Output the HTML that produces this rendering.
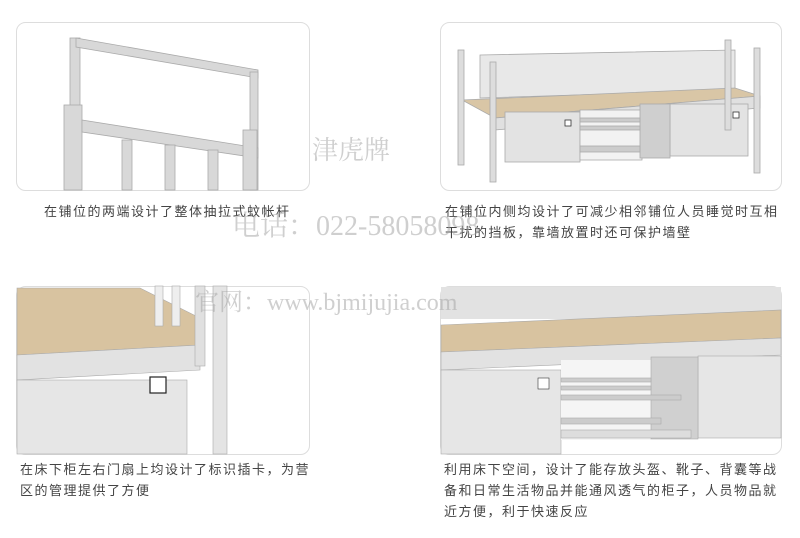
<!DOCTYPE html>
<html><head><meta charset="utf-8"><style>
body{margin:0;background:#fff;width:800px;height:538px;overflow:hidden;position:relative;font-family:"Liberation Sans","Noto Sans CJK SC",sans-serif}
.t{position:absolute;font-size:13px;letter-spacing:1.5px;color:#444;line-height:21px}
.w{position:absolute;font-family:"Liberation Serif","Noto Serif CJK SC",serif;color:rgba(160,160,160,0.5);white-space:nowrap}
</style></head><body>
<svg width="800" height="538" style="position:absolute;left:0;top:0">
<rect x="16.5" y="22.5" width="293" height="168" rx="9" fill="#fff" stroke="#ddd"/>
<rect x="440.5" y="22.5" width="341" height="168" rx="9" fill="#fff" stroke="#ddd"/>
<rect x="16.5" y="286.5" width="293" height="168" rx="9" fill="#fff" stroke="#ddd"/>
<rect x="440.5" y="286.5" width="341" height="168" rx="9" fill="#fff" stroke="#ddd"/>
<g fill="#d8d8d8" stroke="#aaa" stroke-width="0.8">
<rect x="70" y="38" width="10" height="130"/>
<polygon points="76,38 258,70 258,78 76,47"/>
<rect x="250" y="72" width="8" height="118"/>
<rect x="64" y="105" width="18" height="85"/>
<polygon points="82,120 258,148 258,158 82,132"/>
<rect x="122" y="140" width="10" height="50"/>
<rect x="165" y="145" width="10" height="45"/>
<rect x="208" y="150" width="10" height="40"/>
<rect x="243" y="130" width="14" height="60"/>
</g>
<g stroke="#aaa" stroke-width="0.8">
<polygon points="480,55 735,50 735,90 480,98" fill="#e8e8e8"/>
<polygon points="462,100 735,88 760,96 495,118" fill="#d9c6a6"/>
<polygon points="495,118 760,96 760,108 495,130" fill="#e0e0e0"/>
<rect x="505" y="112" width="75" height="50" fill="#e3e3e3"/>
<rect x="670" y="104" width="78" height="52" fill="#e3e3e3"/>
<rect x="580" y="110" width="62" height="50" fill="#f2f2f2"/>
<rect x="640" y="104" width="30" height="54" fill="#cfcfcf"/>
<rect x="580" y="118" width="60" height="4" fill="#ccc"/>
<rect x="580" y="126" width="60" height="4" fill="#ccc"/>
<rect x="580" y="146" width="60" height="6" fill="#ccc"/>
<rect x="458" y="50" width="6" height="115" fill="#ddd"/>
<rect x="490" y="62" width="6" height="120" fill="#ddd"/>
<rect x="725" y="40" width="6" height="90" fill="#ddd"/>
<rect x="754" y="48" width="6" height="125" fill="#ddd"/>
<rect x="565" y="120" width="6" height="6" fill="#fff" stroke="#333"/>
<rect x="733" y="112" width="6" height="6" fill="#fff" stroke="#333"/>
</g>
<g stroke="#aaa" stroke-width="0.6">
<polygon points="17,288 140,288 200,318 200,345 17,355" fill="#d8c3a0"/>
<polygon points="17,355 200,345 200,370 17,380" fill="#e2e2e2"/>
<rect x="17" y="380" width="170" height="74" fill="#e6e6e6"/>
<rect x="155" y="286" width="8" height="40" fill="#eee"/>
<rect x="172" y="286" width="8" height="40" fill="#eee"/>
<rect x="195" y="286" width="10" height="80" fill="#e0e0e0"/>
<rect x="213" y="286" width="14" height="168" fill="#e4e4e4"/>
<rect x="150" y="377" width="16" height="16" fill="#fff" stroke="#222" stroke-width="1.2"/>
</g>
<g stroke="#aaa" stroke-width="0.6">
<rect x="441" y="287" width="340" height="32" fill="#e2e2e2" stroke="none"/>
<polygon points="441,325 781,310 781,338 441,352" fill="#d8c3a0"/>
<polygon points="441,352 781,338 781,355 441,370" fill="#e2e2e2"/>
<rect x="441" y="370" width="120" height="84" fill="#e6e6e6"/>
<rect x="698" y="356" width="83" height="82" fill="#e6e6e6"/>
<rect x="561" y="360" width="90" height="80" fill="#f5f5f5" stroke="none"/>
<rect x="651" y="357" width="47" height="82" fill="#d0d0d0"/>
<rect x="561" y="378" width="90" height="4" fill="#ccc"/>
<rect x="561" y="386" width="90" height="4" fill="#ccc"/>
<rect x="561" y="395" width="120" height="5" fill="#ccc"/>
<rect x="561" y="418" width="100" height="6" fill="#ccc"/>
<rect x="561" y="430" width="130" height="8" fill="#ddd"/>
<rect x="538" y="378" width="11" height="11" fill="#fff" stroke="#333"/>
</g>
</svg>
<div class="t" style="left:44px;top:201px;width:300px">在铺位的两端设计了整体抽拉式蚊帐杆</div>
<div class="t" style="left:445px;top:201px;width:345px">在铺位内侧均设计了可减少相邻铺位人员睡觉时互相干扰的挡板，靠墙放置时还可保护墙壁</div>
<div class="t" style="left:20px;top:459px;width:298px">在床下柜左右门扇上均设计了标识插卡，为营区的管理提供了方便</div>
<div class="t" style="left:444px;top:459px;width:338px">利用床下空间，设计了能存放头盔、靴子、背囊等战备和日常生活物品并能通风透气的柜子，人员物品就近方便，利于快速反应</div>
<div class="w" style="left:312px;top:130px;font-size:26px">津虎牌</div>
<div class="w" style="left:232px;top:204px;font-size:28px">电话：022-58058098</div>
<div class="w" style="left:195px;top:282px;font-size:24px">官网：www.bjmijujia.com</div>
</body></html>
